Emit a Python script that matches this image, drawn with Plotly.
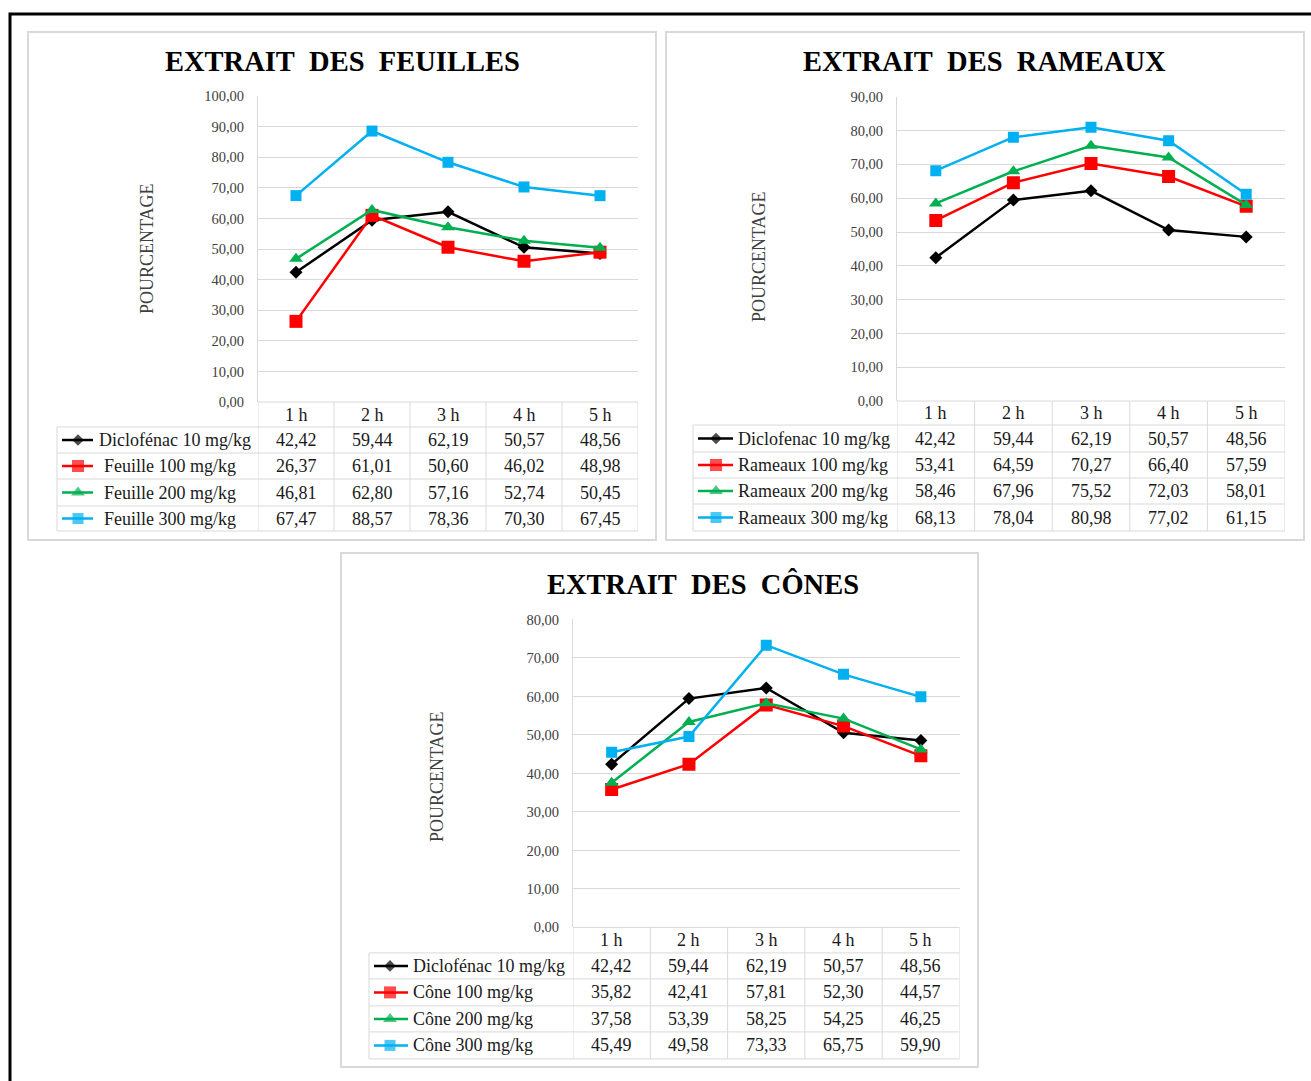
import plotly.graph_objects as go

W, H = 1311, 1081

# ---- data ----
hours = ["1 h", "2 h", "3 h", "4 h", "5 h"]

diclofenac = [42.42, 59.44, 62.19, 50.57, 48.56]

feuille_100 = [26.37, 61.01, 50.60, 46.02, 48.98]
feuille_200 = [46.81, 62.80, 57.16, 52.74, 50.45]
feuille_300 = [67.47, 88.57, 78.36, 70.30, 67.45]

rameaux_100 = [53.41, 64.59, 70.27, 66.40, 57.59]
rameaux_200 = [58.46, 67.96, 75.52, 72.03, 58.01]
rameaux_300 = [68.13, 78.04, 80.98, 77.02, 61.15]

cone_100 = [35.82, 42.41, 57.81, 52.30, 44.57]
cone_200 = [37.58, 53.39, 58.25, 54.25, 46.25]
cone_300 = [45.49, 49.58, 73.33, 65.75, 59.90]

titles = ["EXTRAIT\u00a0 DES\u00a0 FEUILLES",
          "EXTRAIT\u00a0 DES\u00a0 RAMEAUX",
          "EXTRAIT\u00a0 DES\u00a0 CÔNES"]
y_title = "POURCENTAGE"

names_feuilles = ["Diclofénac 10 mg/kg", "Feuille 100 mg/kg",
                  "Feuille 200 mg/kg", "Feuille 300 mg/kg"]
names_rameaux = ["Diclofenac 10 mg/kg", "Rameaux 100 mg/kg",
                 "Rameaux 200 mg/kg", "Rameaux 300 mg/kg"]
names_cones = ["Diclofénac 10 mg/kg", "Cône 100 mg/kg",
               "Cône 200 mg/kg", "Cône 300 mg/kg"]

series_feuilles = [diclofenac, feuille_100, feuille_200, feuille_300]
series_rameaux = [diclofenac, rameaux_100, rameaux_200, rameaux_300]
series_cones = [diclofenac, cone_100, cone_200, cone_300]

y_max = [100, 90, 80]

# ---- styles ----
colors = ["#000000", "#FF0000", "#00B050", "#00B0F0"]
symbols = ["diamond", "square", "triangle-up", "square"]
marker_sizes = [10, 13, 12, 11]
key_marker_sizes = [9, 12, 12, 11]
SERIF = "Liberation Serif"
GRID = "#d9d9d9"

# the page adds a small band above and below the figure; page
# positions below are converted so they land where intended
PAGE_PAD = 8
PAGE_SCALE = (H + 2 * PAGE_PAD) / H


def fx(x):
    return x / W


def fy(y):
    return 1 - (y * PAGE_SCALE - PAGE_PAD) / H


def fmt(v):
    return f"{v:.2f}".replace(".", ",")


# pixel geometry of each chart block
panels = [
    dict(names=names_feuilles, series=series_feuilles,
         box=(28, 32, 656, 540), plot=(258, 96, 638, 402),
         rows=(402, 427, 453, 479, 506, 531), table_left=57,
         key=(62, 93, 78), text_x=[97, 102, 102, 102],
         title_xy=(342.5, 61), ytitle_xy=(147, 249)),
    dict(names=names_rameaux, series=series_rameaux,
         box=(666, 32, 1304, 540), plot=(897, 96.7, 1285, 401),
         rows=(401, 425, 452, 478, 504, 531), table_left=693,
         key=(698, 733, 716), text_x=[736, 736, 736, 736],
         title_xy=(984.5, 61), ytitle_xy=(759, 257)),
    dict(names=names_cones, series=series_cones,
         box=(341, 553, 978, 1067), plot=(573, 619.5, 959.5, 927.5),
         rows=(927.5, 953, 979, 1006, 1032, 1059), table_left=369,
         key=(374, 408, 390), text_x=[411, 411, 411, 411],
         title_xy=(703, 584), ytitle_xy=(437, 777)),
]

fig = go.Figure()
shapes = []
annotations = []
layout_axes = {}

# outer frame
shapes.append(dict(type="rect", xref="paper", yref="paper",
                   x0=fx(10), y0=fy(14), x1=fx(1330), y1=-0.05,
                   line=dict(color="#000000", width=3), layer="below"))

for p_i, p in enumerate(panels):
    s = "" if p_i == 0 else str(p_i + 1)
    xa, ya = "x" + s, "y" + s
    x0, y0, x1, y1 = p["plot"]

    # chart box
    bx0, by0, bx1, by1 = p["box"]
    shapes.append(dict(type="rect", xref="paper", yref="paper",
                       x0=fx(bx0), y0=fy(by0), x1=fx(bx1), y1=fy(by1),
                       line=dict(color=GRID, width=2), layer="below"))

    layout_axes["xaxis" + s] = dict(
        domain=[fx(x0), fx(x1)], type="category", categoryorder="array",
        categoryarray=hours, range=[-0.5, 4.5], anchor=ya,
        showticklabels=False, showgrid=False, zeroline=False,
        showline=False, ticks="", fixedrange=True)
    layout_axes["yaxis" + s] = dict(
        domain=[fy(y1), fy(y0)], range=[0, y_max[p_i]], tick0=0, dtick=10,
        tickformat=".2f", anchor=xa, showgrid=True, gridcolor=GRID,
        gridwidth=1, zeroline=False, showline=True, linecolor=GRID,
        linewidth=1, ticks="outside", ticklen=10,
        tickcolor="rgba(0,0,0,0)",
        tickfont=dict(family=SERIF, size=14.5, color="#404040"),
        fixedrange=True)

    # series lines
    for k in range(4):
        fig.add_trace(go.Scatter(
            x=hours, y=p["series"][k], xaxis=xa, yaxis=ya,
            mode="lines+markers", name=p["names"][k], showlegend=False,
            line=dict(color=colors[k], width=2.5),
            marker=dict(symbol=symbols[k], size=marker_sizes[k],
                        color=colors[k], line=dict(width=0))))

    # data table grid
    rows = p["rows"]
    tl = p["table_left"]
    shapes.append(dict(type="line", xref="paper", yref="paper",
                       x0=fx(x0), x1=fx(x1), y0=fy(rows[0]), y1=fy(rows[0]),
                       line=dict(color=GRID, width=1)))
    for r in rows[1:]:
        shapes.append(dict(type="line", xref="paper", yref="paper",
                           x0=fx(tl), x1=fx(x1), y0=fy(r), y1=fy(r),
                           line=dict(color=GRID, width=1)))
    for c in range(6):
        shapes.append(dict(type="line", xref=xa, yref="paper",
                           x0=c - 0.5, x1=c - 0.5,
                           y0=fy(rows[0]), y1=fy(rows[-1]),
                           line=dict(color=GRID, width=1)))
    shapes.append(dict(type="line", xref="paper", yref="paper",
                       x0=fx(tl), x1=fx(tl), y0=fy(rows[1]), y1=fy(rows[-1]),
                       line=dict(color=GRID, width=1)))

    # header row
    hy = (rows[0] + rows[1]) / 2
    for c, h in enumerate(hours):
        annotations.append(dict(xref=xa, yref="paper", x=c, y=fy(hy),
                                text=h, showarrow=False, xanchor="center",
                                yanchor="middle",
                                font=dict(family=SERIF, size=18,
                                          color="#1a1a1a")))
    # value rows and legend keys
    kx0, kx1, kc = p["key"]
    for k in range(4):
        ry = (rows[k + 1] + rows[k + 2]) / 2
        for c, v in enumerate(p["series"][k]):
            annotations.append(dict(xref=xa, yref="paper", x=c, y=fy(ry),
                                    text=fmt(v), showarrow=False,
                                    xanchor="center", yanchor="middle",
                                    font=dict(family=SERIF, size=18,
                                              color="#1a1a1a")))
        annotations.append(dict(xref="paper", yref="paper",
                                x=fx(p["text_x"][k]), y=fy(ry),
                                text=p["names"][k], showarrow=False,
                                xanchor="left", yanchor="middle",
                                font=dict(family=SERIF, size=18,
                                          color="#1a1a1a")))
        ky = fy(ry)
        fig.add_trace(go.Scatter(
            x=[fx(kx0), fx(kc), fx(kx1)], y=[ky, ky, ky],
            xaxis="x4", yaxis="y4",
            mode="lines+markers", showlegend=False, hoverinfo="skip",
            line=dict(color=colors[k], width=2.5),
            marker=dict(symbol=symbols[k],
                        size=[0, key_marker_sizes[k], 0],
                        color=colors[k], line=dict(width=0))))

    # chart title and value-axis title
    tx, ty = p["title_xy"]
    annotations.append(dict(xref="paper", yref="paper", x=fx(tx), y=fy(ty),
                            text="<b>" + titles[p_i] + "</b>",
                            showarrow=False, xanchor="center",
                            yanchor="middle",
                            font=dict(family=SERIF, size=28.5,
                                      color="#000000")))
    ax_, ay_ = p["ytitle_xy"]
    annotations.append(dict(xref="paper", yref="paper", x=fx(ax_), y=fy(ay_),
                            text=y_title, showarrow=False, textangle=-90,
                            xanchor="center", yanchor="middle",
                            font=dict(family=SERIF, size=18,
                                      color="#404040")))

# full-page helper axes (paper units) for the legend keys
layout_axes["xaxis4"] = dict(domain=[0, 1], range=[0, 1], visible=False,
                             anchor="y4", fixedrange=True)
layout_axes["yaxis4"] = dict(domain=[0, 1], range=[0, 1], visible=False,
                             anchor="x4", fixedrange=True)

fig.update_layout(
    width=W, height=H, margin=dict(l=0, r=0, t=0, b=0, pad=0),
    paper_bgcolor="#ffffff", plot_bgcolor="rgba(0,0,0,0)",
    separators=", ", showlegend=False,
    shapes=shapes, annotations=annotations,
    **layout_axes)

fig.write_html("out.html")
